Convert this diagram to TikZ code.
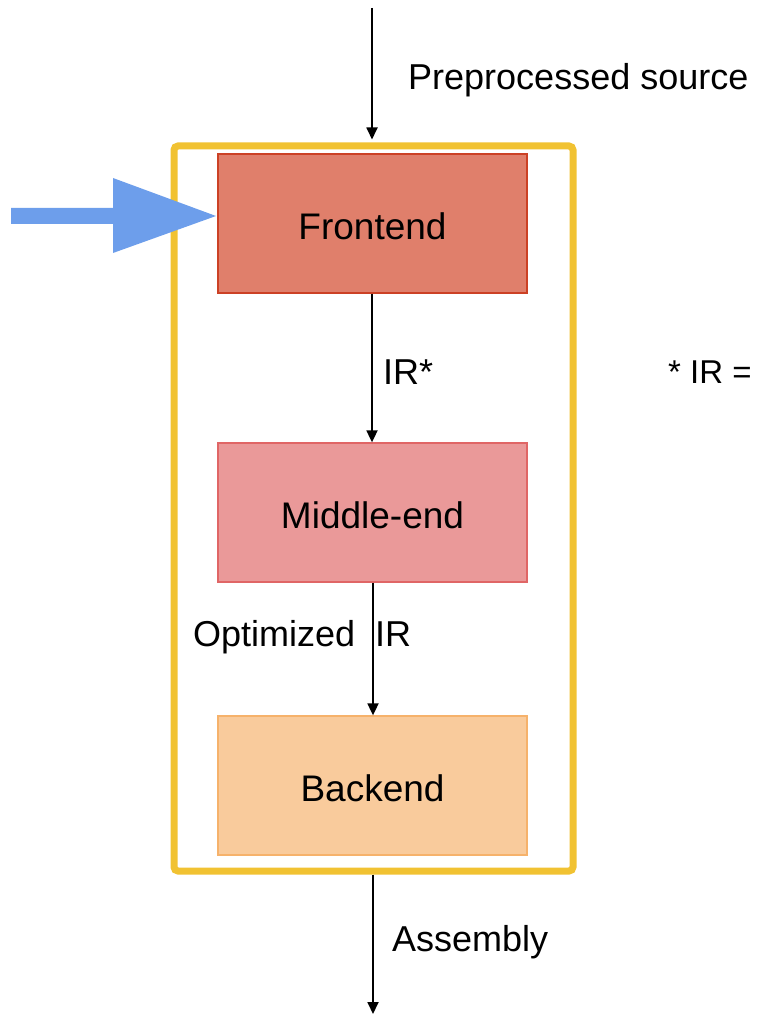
\documentclass[tikz,border=0pt]{standalone}
\usepackage{fontspec}
\setmainfont{Liberation Sans}
\usetikzlibrary{arrows.meta}
\definecolor{frameyellow}{HTML}{F1C232}
\definecolor{feFill}{HTML}{E07F6B}
\definecolor{feLine}{HTML}{CC4125}
\definecolor{meFill}{HTML}{EA9999}
\definecolor{meLine}{HTML}{E06666}
\definecolor{beFill}{HTML}{F9CB9C}
\definecolor{beLine}{HTML}{F6B26B}
\definecolor{pointer}{HTML}{6D9EEB}
\tikzset{
  stagebox/.style={draw, line width=1.3pt, minimum width=309pt, minimum height=139pt,
    inner sep=0pt, text depth=0pt, font=\fontsize{37}{44}\selectfont},
  flow/.style={line width=1.8pt, -{Triangle[length=12pt,width=11pt]}},
  lbl/.style={font=\fontsize{36}{43}\selectfont, inner sep=0pt},
}
\begin{document}
\begin{tikzpicture}[x=1pt,y=-1pt]
\useasboundingbox (0,0) rectangle (761,1016);
% enclosing compiler frame
\node[draw=frameyellow, line width=7pt, rounded corners=4pt,
      minimum width=399pt, minimum height=725pt, inner sep=0pt] (frame) at (373.5,508.5) {};
% the three stages
\node[stagebox, fill=feFill, draw=feLine] (fe) at (372.5,223.5) {};
\node[stagebox, fill=meFill, draw=meLine] (me) at (372.5,512.5) {};
\node[stagebox, fill=beFill, draw=beLine] (be) at (372.5,785.5) {};
\node[font=\fontsize{37}{44}\selectfont, inner sep=0pt] (fetxt) at (372.5,226) {Frontend};
\node[font=\fontsize{37}{44}\selectfont, inner sep=0pt] (metxt) at (372.5,515) {Middle-end};
\node[font=\fontsize{37}{44}\selectfont, inner sep=0pt] (betxt) at (372.5,788) {Backend};
% input and output ends
\coordinate (in) at (372,8);
\coordinate (out) at (373,1014);
\draw[flow, shorten >=3pt] (in) -- (in |- frame.north);
\draw[flow] (fe.south -| 372,0) -- (me.north -| 372,0);
\draw[flow] (me.south -| 373,0) -- (be.north -| 373,0);
\draw[flow] (frame.south -| out) -- (out);
% labels
\node[lbl, anchor=west] (src) at (408,80) {Preprocessed source};
\node[lbl, anchor=west] (ir) at (383,372) {IR*};
\node[lbl, anchor=west, font=\fontsize{33}{40}\selectfont] (note) at (668,372) {* IR =};
\node[lbl, anchor=west] (opt) at (193,637) {Optimized\ \ IR};
\node[lbl, anchor=west] (asm) at (392,942) {Assembly};
% blue pointer arrow onto the frontend
\fill[pointer] (11,208) -- (113,208) -- (113,178) -- (216,216) -- (113,253) -- (113,224) -- (11,224) -- cycle;
\end{tikzpicture}
\end{document}
